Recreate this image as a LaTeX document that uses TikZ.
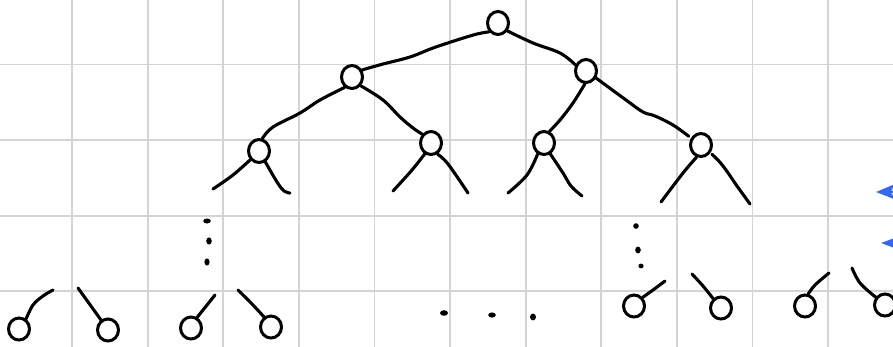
\documentclass[tikz,border=0pt]{standalone}
\usetikzlibrary{shapes.geometric,arrows.meta}
\definecolor{gridgray}{RGB}{212,212,212}
\definecolor{penblue}{RGB}{51,102,255}
\tikzset{
  treenode/.style={ellipse, draw=black, line width=3pt, minimum width=21pt, minimum height=23pt, inner sep=0pt, fill=white},
  smallnode/.style={treenode, minimum width=21pt, minimum height=22pt},
  edge/.style={line width=3.1pt, line cap=round, line join=round},
  gridline/.style={draw=gridgray, line width=1.8pt},
  penarrow/.style={draw=penblue, line width=2.4pt, -{Stealth[length=20pt,width=16pt,inset=6pt]}},
  dotmark/.style={fill=black}
}
\begin{document}
\begin{tikzpicture}[x=1pt,y=-1pt]
\useasboundingbox (0,0) rectangle (893,346);
\clip (0,0) rectangle (893,346);
\fill[white] (0,0) rectangle (893,346);

% squared paper
\foreach \k in {0,...,10} \draw[gridline] ({72+75.6*\k},-5) -- ({72+75.6*\k},351);
\foreach \k in {0,...,3} \draw[gridline] (-5,{64.5+75.6*\k}) -- (898,{64.5+75.6*\k});

% arrows coming in from the right edge
\coordinate (pa1s) at (960,191);
\coordinate (pa1t) at (876,192);
\coordinate (pa2s) at (960,243);
\coordinate (pa2t) at (881,243);
\draw[penarrow] (pa1s) -- (pa1t);
\draw[penarrow, -{Stealth[length=15pt,width=11pt,inset=4pt]}] (pa2s) -- (pa2t);

% tree nodes
\node[treenode] (r) at (498,23) {};
\node[treenode] (a) at (352,77) {};
\node[treenode] (b) at (586,71) {};
\node[treenode] (c) at (259,151) {};
\node[treenode] (d) at (431,143) {};
\node[treenode] (e) at (544,143) {};
\node[treenode] (f) at (701,145) {};

\node[smallnode] (g1) at (19,329) {};
\node[smallnode] (g2) at (108,330) {};
\node[smallnode] (g3) at (191,328) {};
\node[smallnode] (g4) at (271,327) {};
\node[smallnode] (g5) at (634,306) {};
\node[smallnode] (g6) at (721,308) {};
\node[smallnode] (g7) at (805,306) {};
\node[smallnode] (g8) at (885,305) {};

% loose branch ends
\coordinate (cl) at (213,189);
\coordinate (cr) at (290,193);
\coordinate (dl) at (393,191);
\coordinate (dr) at (468,193);
\coordinate (el) at (508,193);
\coordinate (er) at (582,196);
\coordinate (fl) at (661,202);
\coordinate (fr) at (750,204);
\coordinate (h1) at (53,290);
\coordinate (h2) at (78,288);
\coordinate (h3) at (215,295);
\coordinate (h4) at (238,290);
\coordinate (h5) at (665,281);
\coordinate (h6) at (692,274);
\coordinate (h7) at (829,273);
\coordinate (h8) at (852,268);

% inner edges
\draw[edge] plot[smooth, tension=0.6] coordinates {(r.225) (477,34) (457,40) (433,48) (410,57) (383,64) (a.35)};
\draw[edge] plot[smooth, tension=0.6] coordinates {(r.-40) (533,43) (560,53) (b.150)};
\draw[edge] plot[smooth, tension=0.6] coordinates {(a.235) (320,100) (300,113) (273,127) (c.75)};
\draw[edge] plot[smooth, tension=0.6] coordinates {(a.-45) (383,100) (400,117) (413,128) (d.135)};
\draw[edge] plot[smooth, tension=0.6] coordinates {(b.-95) (573,103) (560,120) (e.65)};
\draw[edge, shorten >=3pt] plot[smooth, tension=0.6] coordinates {(b.-35) (626,100) (643,112) (655,116) (673,125) (f.145)};

% stubs below the second level
\draw[edge] plot[smooth, tension=0.6] coordinates {(c.225) (233,175) (cl)};
\draw[edge] plot[smooth, tension=0.6] coordinates {(c.-60) (277,182) (284,191) (cr)};
\draw[edge] plot[smooth, tension=0.6] coordinates {(d.240) (412,170) (dl)};
\draw[edge] plot[smooth, tension=0.6] coordinates {(d.-60) (448,164) (dr)};
\draw[edge] plot[smooth, tension=0.6] coordinates {(e.240) (527,175) (el)};
\draw[edge] plot[smooth, tension=0.6] coordinates {(e.-60) (563,173) (571,186) (er)};
\draw[edge] plot[smooth, tension=0.6] coordinates {(f.250) (683,173) (fl)};
\draw[edge, shorten <=2pt] plot[smooth, tension=0.6] coordinates {(f.-40) (723,166) (737,186) (fr)};

% stubs above the leaves
\draw[edge] plot[smooth, tension=0.6] coordinates {(g1.55) (33,305) (43,296) (h1)};
\draw[edge] plot[smooth, tension=0.6] coordinates {(g2.125) (h2)};
\draw[edge] plot[smooth, tension=0.6] coordinates {(g3.60) (h3)};
\draw[edge] plot[smooth, tension=0.6] coordinates {(g4.125) (253,305) (h4)};
\draw[edge] plot[smooth, tension=0.6] coordinates {(g5.45) (653,290) (h5)};
\draw[edge] plot[smooth, tension=0.6] coordinates {(g6.130) (703,286) (h6)};
\draw[edge] plot[smooth, tension=0.6] coordinates {(g7.75) (815,285) (h7)};
\draw[edge] plot[smooth, tension=0.6] coordinates {(g8.140) (860,283) (h8)};

% ellipsis dots
\fill[dotmark] (207,221) ellipse [x radius=3.8pt, y radius=2.5pt];
\fill[dotmark] (209,241) ellipse [x radius=2.8pt, y radius=3.6pt];
\fill[dotmark] (207,262) ellipse [x radius=2.6pt, y radius=3.6pt];
\fill[dotmark] (636,226) ellipse [x radius=2.8pt, y radius=2.8pt];
\fill[dotmark] (638,250) ellipse [x radius=2.8pt, y radius=3.4pt];
\fill[dotmark] (641,266) ellipse [x radius=2.6pt, y radius=2.4pt];
\fill[dotmark] (444,313) ellipse [x radius=4pt, y radius=2.8pt];
\fill[dotmark] (492,315) ellipse [x radius=3.8pt, y radius=2.6pt];
\fill[dotmark] (533,317) ellipse [x radius=3pt, y radius=3.4pt];
\end{tikzpicture}
\end{document}
